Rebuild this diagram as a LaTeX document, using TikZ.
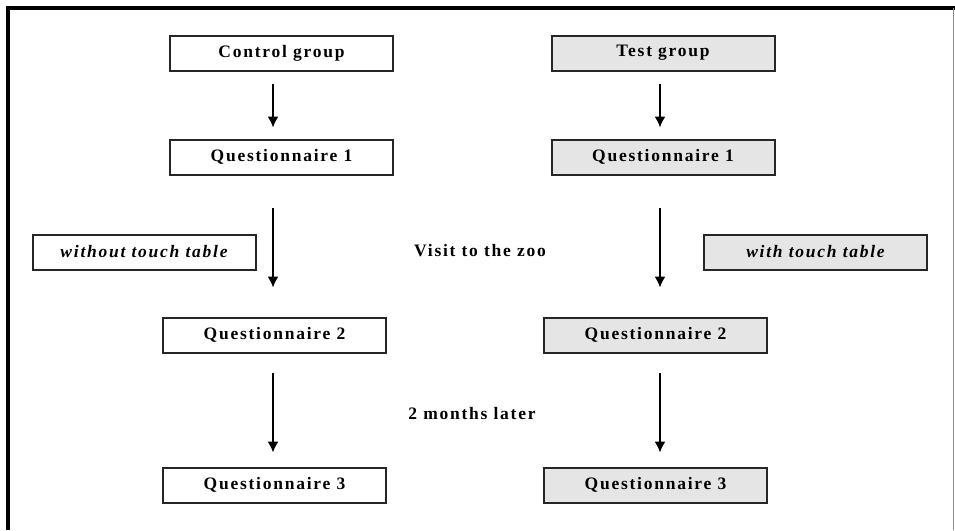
\documentclass[tikz,border=0pt]{standalone}
\usepackage{fontspec}
\setmainfont{Liberation Serif}[LetterSpace=10]
\usetikzlibrary{arrows.meta}

\begin{document}
\begin{tikzpicture}[
        x=1pt, y=-1pt,
        every node/.style={font=\fontsize{17.5}{20}\selectfont\bfseries},
        block/.style={draw=black!85, line width=2pt, minimum width=223pt, minimum height=35pt, inner sep=0pt, align=center},
        testblock/.style={block, fill=black!10},
        arr/.style={-{Latex[length=11pt, width=11pt]}, line width=1.6pt}
    ]
    \useasboundingbox (0,0) rectangle (955,530);
    % frame
    \draw[line width=4pt] (8,530) -- (8,8) -- (955,8);
    \draw[black!45, line width=1pt] (953.5,8) -- (953.5,530);

    % control group
    \node[block] (ctrl) at (281.5,53) {Control group};
    \node[block] (ctrlqa) at (281.5,157) {Questionnaire 1};
    \node[block] (without) at (144,252) {\itshape without touch table};
    \node[block] (ctrlqb) at (274.5,335) {Questionnaire 2};
    \node[block] (ctrlqc) at (274.5,485) {Questionnaire 3};

    % test group
    \node[testblock] (test) at (663,53) {Test group};
    \node[testblock] (testqa) at (663,157) {Questionnaire 1};
    \node[testblock] (with) at (815.5,252) {\itshape with touch table};
    \node[testblock] (testqb) at (655.5,335) {Questionnaire 2};
    \node[testblock] (testqc) at (655.5,485) {Questionnaire 3};

    % steps
    \node (visit) at (480,251) {Visit to the zoo};
    \node (later) at (472,414) {2 months later};

    \draw[arr, shorten <=12pt, shorten >=11pt] ([xshift=-8.5pt]ctrl.south) -- ([xshift=-8.5pt]ctrlqa.north);
    \draw[arr, shorten <=32pt, shorten >=29pt] ([xshift=-8.5pt]ctrlqa.south) -- ([xshift=-8.5pt]ctrlqa.south |- ctrlqb.north);
    \draw[arr, shorten <=19pt, shorten >=14pt] ([xshift=-1.5pt]ctrlqb.south) -- ([xshift=-1.5pt]ctrlqc.north);

    \draw[arr, shorten <=12pt, shorten >=11pt] ([xshift=-3pt]test.south) -- ([xshift=-3pt]testqa.north);
    \draw[arr, shorten <=32pt, shorten >=29pt] ([xshift=-3pt]testqa.south) -- ([xshift=-3pt]testqa.south |- testqb.north);
    \draw[arr, shorten <=19pt, shorten >=14pt] ([xshift=4.5pt]testqb.south) -- ([xshift=4.5pt]testqc.north);
\end{tikzpicture}
\end{document}
